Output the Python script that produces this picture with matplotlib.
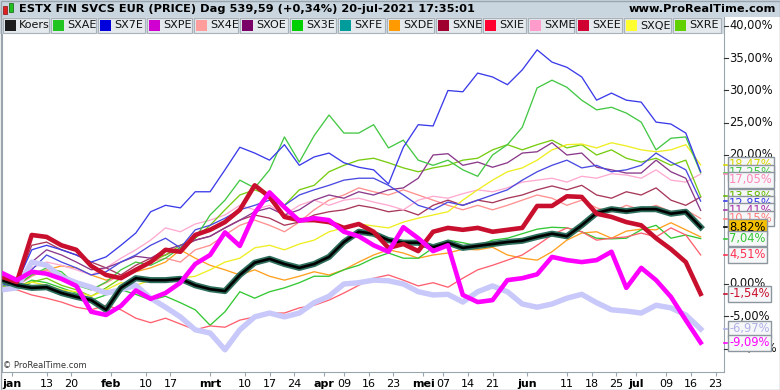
import matplotlib
matplotlib.use("Agg")
import matplotlib.pyplot as plt
from matplotlib.patches import Rectangle

W, H = 780, 390

# trading days counted from 30-dec-2020, every third session up to 20-jul-2021
day_idx = list(range(0, 142, 3))

koers = [0.6, -0.2, -0.6, -0.5, -1.4, -2.0, -2.5, -4.0, -0.6, 0.9, 0.6, 0.6, 0.8, -0.2, -0.8, -1.1,
         1.4, 3.3, 3.9, 3.1, 2.5, 3.1, 4.2, 6.5, 8.1, 7.8, 6.8, 6.4, 6.4, 5.7, 6.4, 5.6,
         5.9, 6.2, 6.5, 6.7, 7.3, 7.8, 7.4, 9.1, 11.0, 11.6, 11.3, 11.6, 11.6, 10.9, 11.2, 8.82]
sxfe = koers
sxae = [0.5, -0.2, 1.4, 2.5, 1.9, -0.2, -0.9, 0.3, 2.2, 3.4, 2.9, 4.0, 5.6, 7.1, 10.7, 13.0,
        16.1, 14.9, 17.7, 22.8, 18.9, 23.0, 26.2, 23.4, 23.4, 24.7, 21.1, 22.3, 19.2, 18.4, 19.2, 17.7,
        16.7, 20.0, 21.6, 24.3, 30.4, 31.6, 30.5, 28.5, 27.0, 27.4, 26.5, 25.1, 20.8, 22.6, 22.8, 17.25]
sx7e = [0.3, 0.2, 5.3, 6.0, 5.3, 4.5, 3.4, 4.2, 6.0, 7.9, 11.2, 12.2, 11.8, 14.3, 14.3, 17.7,
        21.2, 20.3, 19.2, 21.6, 18.4, 19.7, 20.3, 18.8, 18.1, 17.7, 15.5, 21.2, 24.7, 24.5, 30.0, 29.8,
        32.7, 32.1, 30.9, 33.2, 36.3, 34.4, 33.6, 32.1, 28.5, 29.6, 28.5, 28.2, 25.1, 24.8, 23.4, 17.4]
sxpe = [1.7, 0.6, 1.9, 1.6, 0.8, -0.3, -4.3, -4.8, -3.4, -1.0, -2.3, -1.4, 0.2, 3.1, 4.5, 8.0,
        5.9, 11.0, 14.2, 11.9, 9.8, 10.2, 9.9, 8.1, 7.4, 6.0, 5.0, 8.8, 7.1, 5.1, 6.0, -1.7,
        -2.8, -2.5, 0.6, 0.9, 1.5, 4.2, 3.7, 3.4, 3.7, 5.0, -0.6, 2.5, 0.6, -2.0, -5.6, -9.09]
sx4e = [0.3, -0.3, 1.2, 2.2, 0.9, 0.2, -0.9, 0.2, 1.4, 2.2, 3.4, 4.0, 3.4, 5.3, 6.0, 7.6,
        9.1, 9.9, 9.1, 8.1, 9.6, 11.5, 13.0, 13.8, 14.9, 14.3, 13.8, 14.6, 13.8, 13.0, 12.2, 11.5,
        12.2, 11.5, 12.2, 13.0, 13.8, 13.3, 12.2, 13.0, 11.8, 11.2, 12.2, 11.5, 12.2, 11.2, 11.5, 10.15]
sxoe = [0.8, 0.2, 3.4, 5.3, 4.5, 3.4, 2.2, 2.5, 3.4, 4.3, 4.0, 5.3, 6.0, 6.8, 7.4, 8.7,
        9.9, 11.2, 11.8, 10.7, 11.5, 13.0, 13.8, 13.3, 14.3, 13.8, 14.6, 14.9, 16.4, 20.0, 20.2, 18.4,
        18.9, 18.1, 18.8, 20.3, 20.5, 21.9, 20.0, 20.3, 18.1, 17.7, 17.2, 17.2, 19.2, 17.4, 16.4, 11.41]
sx3e = [-0.2, -0.6, 0.6, 0.2, -0.6, -1.4, -2.5, -1.7, -0.9, -1.6, -2.5, -1.9, -2.9, -4.0, -6.4, -4.3,
        -1.2, -2.2, -1.2, -0.6, 0.2, 1.2, 1.2, 2.2, 2.9, 4.0, 4.8, 4.0, 4.0, 5.6, 6.8, 6.4,
        5.9, 6.8, 7.1, 7.8, 8.5, 8.8, 8.7, 8.1, 7.1, 7.0, 7.1, 8.4, 9.1, 7.1, 7.6, 7.04]
sxde = [0.2, -0.2, 1.4, 2.2, 2.8, 2.5, 1.4, 0.6, 1.2, 1.9, 2.5, 3.4, 5.3, 4.0, 2.9, 2.2,
        1.4, 2.2, 1.2, 0.6, 1.2, 1.9, 1.4, 2.2, 3.4, 4.5, 5.3, 4.8, 4.0, 4.5, 4.8, 5.4,
        5.3, 5.7, 4.5, 4.0, 3.7, 5.0, 6.8, 7.9, 8.1, 7.1, 8.2, 8.5, 8.4, 9.5, 8.4, 7.3]
sxne = [0.6, 0.0, 6.0, 6.5, 5.3, 4.5, 3.4, 2.5, 1.4, 2.9, 4.0, 4.5, 5.6, 6.8, 7.4, 8.7,
        9.9, 10.7, 10.2, 9.1, 9.6, 10.7, 11.2, 11.5, 12.2, 11.8, 11.2, 11.5, 10.7, 12.2, 13.0, 12.2,
        13.0, 12.6, 13.3, 13.8, 14.6, 15.2, 14.6, 15.3, 13.8, 13.3, 14.3, 13.8, 14.9, 13.0, 12.2, 13.5]
sxie = [-0.3, -0.9, -1.7, -2.2, -2.8, -3.6, -4.0, -3.3, -4.0, -5.3, -6.0, -5.3, -6.2, -7.1, -6.5, -6.7,
        -5.6, -5.1, -4.5, -4.5, -3.7, -3.3, -2.5, -1.4, -0.2, 0.9, 1.4, 0.6, -0.3, 0.2, -0.5, 0.9,
        2.2, 2.9, 3.7, 4.5, 6.0, 7.6, 8.7, 8.1, 6.8, 7.1, 7.3, 7.9, 7.3, 8.7, 7.6, 4.51]
sxme = [0.3, 0.8, 2.5, 3.4, 2.9, 2.2, 1.4, 2.5, 4.0, 5.3, 6.8, 8.7, 8.1, 9.3, 9.9, 10.7,
        12.2, 11.5, 12.2, 10.7, 12.2, 13.0, 12.2, 13.0, 13.3, 12.7, 12.2, 11.5, 13.0, 13.6, 13.3, 14.0,
        14.6, 14.3, 14.9, 15.8, 16.1, 16.4, 15.8, 16.7, 16.4, 17.1, 16.9, 16.4, 17.7, 16.1, 15.8, 17.05]
sxee = [1.1, 0.3, 7.6, 7.3, 6.0, 5.3, 2.8, 1.4, 0.9, 2.2, 3.4, 5.3, 5.0, 7.6, 8.4, 9.6,
        11.5, 15.3, 13.5, 10.4, 9.9, 9.9, 9.6, 8.7, 9.3, 8.1, 5.6, 6.2, 5.1, 8.1, 8.7, 8.4,
        8.7, 8.1, 8.4, 8.7, 12.1, 12.1, 13.6, 13.5, 10.9, 10.4, 9.6, 9.1, 7.1, 5.4, 3.4, -1.54]
sxqe = [0.2, -0.3, 0.3, -0.2, -0.9, -1.2, -1.9, -0.9, 0.2, -0.2, 0.6, 0.3, 0.9, 1.2, 2.2, 3.4,
        4.0, 5.6, 6.0, 5.3, 6.2, 6.8, 8.1, 8.7, 9.3, 9.0, 8.7, 9.6, 10.2, 10.7, 11.2, 13.0,
        14.6, 16.1, 17.4, 18.0, 19.2, 20.8, 21.6, 21.7, 21.1, 21.9, 21.4, 20.8, 20.5, 20.8, 21.6, 18.47]
sxre = [-0.3, -0.9, 0.3, 0.9, -0.2, -0.9, -1.9, -0.6, 0.9, 2.2, 3.4, 4.5, 6.0, 7.1, 9.1, 11.5,
        13.8, 14.6, 13.8, 12.2, 14.6, 15.3, 17.4, 18.4, 19.2, 19.5, 18.8, 18.0, 17.4, 18.0, 18.4, 19.2,
        19.5, 20.8, 21.6, 20.8, 21.6, 22.3, 21.1, 21.6, 20.0, 20.8, 19.5, 18.9, 19.5, 18.4, 19.2, 13.58]
# two more series on the chart that do not fit in the legend row
sx8e = [0.0, -0.5, 2.2, 4.5, 3.4, 2.5, 1.4, 1.9, 3.4, 4.5, 6.0, 7.1, 5.6, 8.4, 9.1, 10.2,
        11.5, 12.2, 13.0, 12.2, 13.8, 14.6, 15.3, 16.1, 16.4, 16.4, 15.3, 13.8, 12.2, 11.5, 12.7, 12.2,
        13.0, 13.8, 14.6, 16.1, 17.4, 18.4, 19.2, 18.0, 18.4, 17.4, 17.7, 18.4, 20.3, 18.9, 17.7, 12.85]
sx6e = [-0.9, -0.6, 3.4, 2.9, 1.1, 0.2, -0.5, -1.4, -0.9, -0.2, -2.2, -3.6, -5.1, -7.1, -7.6, -10.2,
        -7.1, -5.1, -4.5, -5.1, -4.5, -2.9, -1.9, 0.0, 0.2, 0.6, 0.5, 0.0, -1.2, -1.7, -1.6, -2.8,
        -1.2, -0.3, -1.2, -3.1, -3.6, -3.1, -2.2, -1.6, -2.9, -4.0, -4.2, -4.5, -3.3, -3.7, -4.8, -6.97]

tick_days = [2, 9, 14, 22, 29, 34, 42, 49, 54, 59, 65, 69, 74, 79, 85, 89, 94, 99,
             106, 114, 119, 124, 128, 134, 139, 144]
tick_labels = ["jan", "13", "20", "feb", "10", "17", "mrt", "10", "17", "24", "apr", "09", "16",
               "23", "mei", "07", "14", "21", "jun", "11", "18", "25", "jul", "09", "16", "23"]
months = ["jan", "feb", "mrt", "apr", "mei", "jun", "jul"]

# 15, 10 and 5 % sit under the end-value boxes and are not visible
price_ticks = [40, 35, 30, 25, 20, 0, -5, -10]

legend_names = ["Koers", "SXAE", "SX7E", "SXPE", "SX4E", "SXOE", "SX3E", "SXFE",
                "SXDE", "SXNE", "SXIE", "SXME", "SXEE", "SXQE", "SXRE"]
legend_colors = ["#1c1c1c", "#22c422", "#0000dd", "#d000d0", "#ff9c9c", "#7a0068", "#00d000", "#009c9c",
                 "#ff9a00", "#a00030", "#ff0030", "#ff9ccc", "#d00030", "#ffff30", "#60d000"]
legend_edges = [2, 50, 97, 146, 193, 239, 289, 337, 386, 435, 482, 527, 575, 623, 672, 722]

thin = [
    (sxde, "#ffa020"), (sx3e, "#33c833"), (sxie, "#ff6070"),
    (sx4e, "#ff9090"), (sxne, "#a8385a"), (sxme, "#ffaad0"),
    (sxre, "#77cc11"), (sxqe, "#eeee22"), (sxoe, "#8a3a8a"),
    (sx8e, "#4a4ae0"), (sxae, "#44c844"), (sx7e, "#3b3bea"),
]

# end labels on the price scale: values, text colour, box fill
end_labels = [
    (sxqe, "#d8d800", "#f6f7f8"), (sxae, "#44c844", "#f6f7f8"), (sxme, "#ff88bb", "#f6f7f8"),
    (sxre, "#66bb00", "#f6f7f8"), (sx8e, "#3b3bea", "#f6f7f8"), (sxoe, "#aa33aa", "#f6f7f8"),
    (sx4e, "#ff8080", "#f6f7f8"), (koers, "#000000", "#f5c000"), (sx3e, "#33c833", "#f6f7f8"),
    (sxie, "#ff3050", "#f6f7f8"), (sxee, "#c8102e", "#f6f7f8"), (sx6e, "#b0b0e8", "#f6f7f8"),
    (sxpe, "#ff00ff", "#f6f7f8"),
]

PX_PER_DAY = 4.955
PX_PER_PCT = 6.45
ZERO_Y = 284
AX_TOP, AX_BOT = 17, 372


def fx(px):
    return px / W


def fy(py):
    return 1 - py / H


def box(fig, x0, y0, x1, y1, **kw):
    fig.patches.append(Rectangle((fx(x0), fy(y1)), (x1 - x0) / W, (y1 - y0) / H,
                                 transform=fig.transFigure, **kw))


def fmt(v):
    return f"{v:.2f}%".replace(".", ",")


fig = plt.figure(figsize=(W / 100, H / 100), dpi=100)
fig.patch.set_facecolor("white")

ylo = (ZERO_Y - AX_BOT) / PX_PER_PCT
yhi = (ZERO_Y - AX_TOP) / PX_PER_PCT

ax = fig.add_axes([fx(2), fy(AX_BOT), (724 - 2) / W, (AX_BOT - AX_TOP) / H])
ax.set_xlim(0, 722 / PX_PER_DAY)
ax.set_ylim(ylo, yhi)
ax.set_yticks([])
for s in ["left", "right", "bottom"]:
    ax.spines[s].set_color("#9aa5ae")
ax.spines["top"].set_visible(False)

for vals, col in thin:
    ax.plot(day_idx, vals, color=col, lw=0.95, zorder=2)
ax.plot(day_idx, sx6e, color="#c8c8fa", lw=3.9, zorder=3)
ax.plot(day_idx, sxfe, color="#2e6e5c", lw=4.4, zorder=4)
ax.plot(day_idx, koers, color="#000000", lw=1.9, zorder=5)
ax.plot(day_idx, sxee, color="#c8102e", lw=3.3, zorder=6)
ax.plot(day_idx, sxpe, color="#ff00ff", lw=3.3, zorder=7)

ax.set_xticks(tick_days)
ax.set_xticklabels(tick_labels, fontsize=8)
for t in ax.get_xticklabels():
    if t.get_text() in months:
        t.set_fontweight("bold")
ax.tick_params(axis="x", length=3, color="#9aa5ae", pad=2)

fig.text(fx(3), fy(365), "\u00a9 ProRealTime.com", fontsize=6, color="#333333", va="center")

# price scale on the right
rax = fig.add_axes([fx(724), fy(AX_BOT), (W - 724) / W, (AX_BOT - AX_TOP) / H])
rax.set_xlim(0, W - 724)
rax.set_ylim(ylo, yhi)
rax.axis("off")
for v in price_ticks:
    rax.plot([0, 4], [v, v], color="#333333", lw=0.8, clip_on=False)
    rax.text(5, v, fmt(v), fontsize=8.3, va="center", ha="left", color="#111111", zorder=1, clip_on=False)

gap = 7 / PX_PER_PCT
prev = None
order = sorted(end_labels, key=lambda e: -e[0][-1])
for k, (vals, tcol, fill) in enumerate(order):
    v = vals[-1]
    ypos = v if prev is None else min(v, prev - gap)
    prev = ypos
    rax.plot([0, 3], [v, v], color=tcol, lw=1.2, zorder=3, clip_on=False)
    rax.text(5, ypos, fmt(v), fontsize=8.3, va="center", ha="left", color=tcol, zorder=10 + k,
             clip_on=False,
             bbox=dict(boxstyle="square,pad=0.12", fc=fill, ec="#8c969e", lw=1))

# title bar
box(fig, 0, 0, W, 17, fc="#c9d6df", ec="none")
box(fig, 3, 6, 7, 14, fc="#e02020", ec="#801010", lw=0.5)
box(fig, 9, 3, 13, 12, fc="#20c020", ec="#106010", lw=0.5)
fig.text(fx(19), fy(9), "ESTX FIN SVCS EUR (PRICE) Dag 539,59 (+0,34%) 20-jul-2021 17:35:01",
         fontsize=8.2, fontweight="bold", va="center")
fig.text(fx(776), fy(9), "www.ProRealTime.com", fontsize=8.2, fontweight="bold", va="center", ha="right")

# legend row
box(fig, 0, 17, 724, 34, fc="#d3dbe1", ec="none")
for i, name in enumerate(legend_names):
    x0, x1 = legend_edges[i], legend_edges[i + 1]
    box(fig, x0 + 1, 18, x1 - 1, 33, fc="#e4e9ed", ec="#a7b2ba", lw=0.8)
    box(fig, x0 + 3, 20, x0 + 14, 31, fc=legend_colors[i], ec="none")
    fig.text(fx(x0 + 17), fy(25.5), name, fontsize=8, va="center", color="#111111")

# outer frame
box(fig, 0.5, 0.5, W - 0.5, H - 0.5, fc="none", ec="#9aa5ae", lw=1)

fig.savefig("out.png", dpi=100)
